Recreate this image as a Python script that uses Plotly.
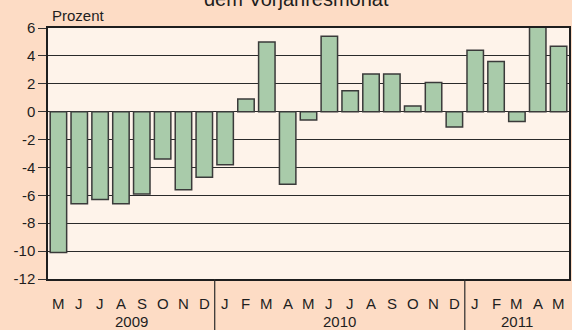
import plotly.graph_objects as go

# Monthly change versus the same month of the previous year, in percent
months = ["M", "J", "J", "A", "S", "O", "N", "D",
          "J", "F", "M", "A", "M", "J", "J", "A", "S", "O", "N", "D",
          "J", "F", "M", "A", "M"]
values = [-10.1, -6.6, -6.3, -6.6, -5.9, -3.4, -5.6, -4.7,
          -3.8, 0.9, 5.0, -5.2, -0.6, 5.4, 1.5, 2.7, 2.7, 0.4, 2.1, -1.1,
          4.4, 3.6, -0.7, 6.2, 4.7]
years = ["2009", "2010", "2011"]
year_counts = [8, 12, 5]
y_ticks = [6, 4, 2, 0, -2, -4, -6, -8, -10, -12]

W, H = 572, 330
M_L, M_R, M_T, M_B = 48, 1, 28, 51
plot_h = H - M_T - M_B


def py(pixel_y):
    """Convert a pixel row to paper coordinates."""
    return (H - M_B - pixel_y) / plot_h


FONT = "Liberation Sans, Arial, sans-serif"
PAPER = "#fddcc5"
PLOT = "#fef3ea"
INK = "#1e1e1e"

x = list(range(len(values)))

fig = go.Figure(go.Bar(
    x=x, y=values, width=0.79,
    marker=dict(color="#a9cbaa", line=dict(color="#3a3a3a", width=1.5)),
    cliponaxis=False,
))

annotations = []
# Month letters under each bar
for i, m in enumerate(months):
    annotations.append(dict(x=i, y=py(303), xref="x", yref="paper", text=m,
                            showarrow=False, font=dict(family=FONT, size=15, color=INK),
                            xanchor="center", yanchor="middle"))

# Year labels and separators between year groups
shapes = []
start = 0
for k, (yr, n) in enumerate(zip(years, year_counts)):
    centre = start + (n - 1) / 2
    annotations.append(dict(x=centre, y=py(321.5), xref="x", yref="paper", text=yr,
                            showarrow=False, font=dict(family=FONT, size=15, color=INK),
                            xanchor="center", yanchor="middle"))
    if k < len(years) - 1:
        sep = start + n - 0.5
        shapes.append(dict(type="line", xref="x", yref="paper", x0=sep, x1=sep,
                           y0=0, y1=py(H + 2), line=dict(color="#2a2a2a", width=1.2)))
    start += n

annotations.append(dict(x=0.004, y=py(15), xref="paper", yref="paper", text="Prozent",
                        showarrow=False, font=dict(family=FONT, size=15, color=INK),
                        xanchor="left", yanchor="middle"))
annotations.append(dict(x=(297 - M_L) / (W - M_L - M_R), y=py(-1), xref="paper", yref="paper",
                        text="dem Vorjahresmonat", showarrow=False,
                        font=dict(family=FONT, size=20, color=INK),
                        xanchor="center", yanchor="middle"))

fig.update_layout(
    width=W, height=H,
    margin=dict(l=M_L, r=M_R, t=M_T, b=M_B),
    paper_bgcolor=PAPER, plot_bgcolor=PLOT,
    showlegend=False,
    bargap=0.21,
    annotations=annotations,
    shapes=shapes,
)
fig.update_xaxes(range=[-0.5, len(values) - 0.5], showticklabels=False, ticks="",
                 showgrid=False, zeroline=False, showline=True, mirror=True,
                 linecolor=INK, linewidth=1.5, fixedrange=True)
fig.update_yaxes(range=[-12, 6], tickvals=y_ticks, ticktext=[str(v) for v in y_ticks],
                 ticks="outside", ticklen=8, tickcolor="#333", tickwidth=1,
                 tickfont=dict(family=FONT, size=15, color=INK),
                 showgrid=True, gridcolor="#2a2a2a", gridwidth=1,
                 zeroline=True, zerolinecolor="#2a2a2a", zerolinewidth=1,
                 showline=True, mirror=True, linecolor=INK, linewidth=1.5, fixedrange=True)

fig.write_html("out.html")
